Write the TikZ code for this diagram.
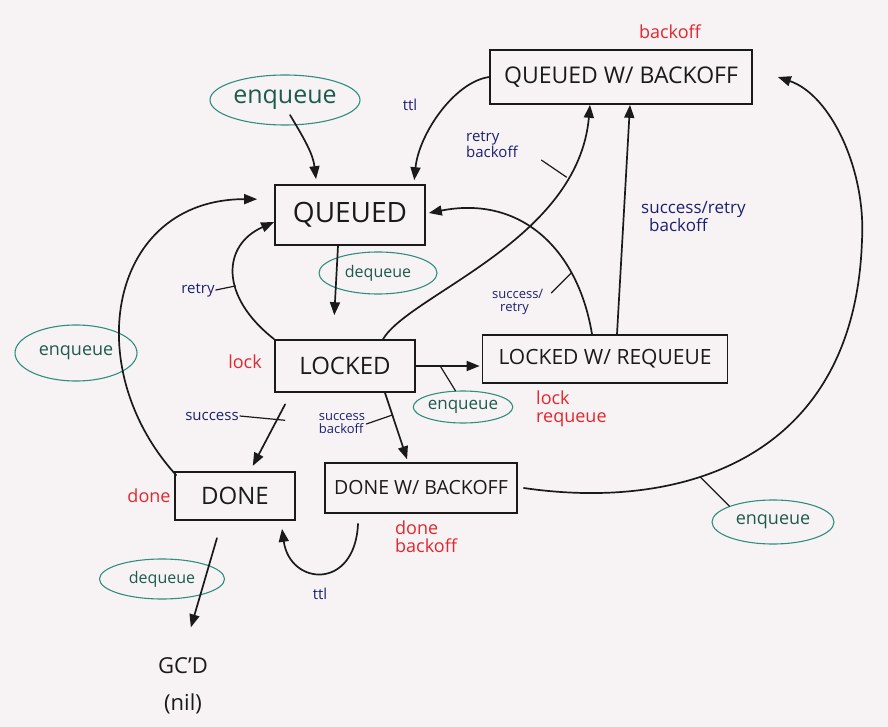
\documentclass[tikz,border=0pt]{standalone}
\usepackage{fontspec}
\setmainfont{Open Sans}
\usetikzlibrary{arrows.meta,shapes.geometric}
\definecolor{ink}{HTML}{1A1A1A}
\definecolor{redpen}{HTML}{E5262D}
\definecolor{bluepen}{HTML}{1D2070}
\definecolor{tealpen}{HTML}{2F8F7C}
\definecolor{greenpen}{HTML}{1E5B4B}
\definecolor{paper}{HTML}{F7F3F5}
\newcommand{\fs}[1]{\fontsize{#1}{#1}\selectfont}

\begin{document}
\begin{tikzpicture}[x=1pt,y=-1pt,line cap=round,
  state/.style={draw=ink,line width=1.7pt,inner sep=0pt,text=ink,font=\fs{21}},
  bubble/.style={ellipse,draw=tealpen,line width=1.1pt,inner sep=0pt,text=greenpen},
  redlbl/.style={text=redpen,align=left,inner sep=1pt,font=\fs{18}},
  bluelbl/.style={text=bluepen,align=left,inner sep=1pt,font=\fs{15}},
  flow/.style={draw=ink,line width=1.7pt,-{Triangle[length=13pt,width=10pt]}},
  tick/.style={draw=ink,line width=1.2pt}]
\fill[paper] (0,0) rectangle (888,727);
\useasboundingbox (0,0) rectangle (888,727);

\node[state,minimum width=262pt,minimum height=54pt,font=\fs{23}] (qb) at (621,77) {QUEUED W/ BACKOFF};
\node[state,minimum width=150pt,minimum height=60pt,font=\fs{28}] (q) at (350,215) {QUEUED};
\node[state,minimum width=140pt,minimum height=52pt,font=\fs{24}] (lk) at (345,366) {LOCKED};
\node[state,minimum width=245pt,minimum height=48pt] (lr) at (605,359) {LOCKED W/ REQUEUE};
\node[state,minimum width=120pt,minimum height=48pt,font=\fs{24}] (dn) at (235,496) {DONE};
\node[state,minimum width=192pt,minimum height=50pt,font=\fs{19.5}] (db) at (421,488) {DONE W/ BACKOFF};
\node[align=center,text=ink,font=\fontsize{22}{37}\selectfont] (gc) at (183,686) {GC'D\\(nil)};

\node[bubble,minimum width=150pt,minimum height=50pt,font=\fs{25}] (en1) at (285,100) {enqueue};
\node[bubble,minimum width=118pt,minimum height=42pt,font=\fs{16}] (dq1) at (378,273) {dequeue};
\node[bubble,minimum width=122pt,minimum height=56pt,font=\fs{18}] (en2) at (76,353) {enqueue};
\node[bubble,minimum width=86pt,minimum height=32pt,font=\fs{17}] (en3) at (463,407) {enqueue};
\node[bubble,minimum width=122pt,minimum height=44pt,font=\fs{18}] (en4) at (773,522) {enqueue};
\node[bubble,minimum width=125pt,minimum height=40pt,font=\fs{16}] (dq2) at (162,579) {dequeue};

\node[redlbl] (rb) at (670,32) {backoff};
\node[redlbl] (rl) at (245,362) {lock};
\node[redlbl,anchor=north west] (rlr) at (535,390) {lock\\requeue};
\node[redlbl] (rd) at (149,496) {done};
\node[redlbl,anchor=north west] (rdb) at (394,520) {done\\backoff};

\node[bluelbl] (bt1) at (410,105) {ttl};
\node[bluelbl,anchor=north west] (brb) at (465,130) {retry\\backoff};
\node[bluelbl,anchor=north west,font=\fs{17}] (bsrb) at (640,200) {success/retry\\\hspace*{8pt}backoff};
\node[bluelbl,anchor=north west,font=\fs{13}] (bsr) at (491,288) {success/\\\hspace*{8pt}retry};
\node[bluelbl] (br) at (198,290) {retry};
\node[bluelbl] (bs) at (212,416) {success};
\node[bluelbl,font=\fs{13}] (bsb) at (342,424) {success\\backoff};
\node[bluelbl] (bt2) at (320,594) {ttl};

\draw[flow] ([xshift=5pt,yshift=-15pt]en1.center) .. controls +(15,25) and +(-3,-25) .. ([xshift=-34pt,yshift=5pt]q.north);
\draw[flow,shorten >=4pt] (qb.west) .. controls +(-35,5) and +(5,-50) .. ([xshift=-12pt]q.north east);
\draw[flow,shorten >=24pt] ([xshift=-12pt]q.south) -- ([xshift=-12pt]lk.north);
\draw[flow] (lk.north west) .. controls +(-55,-43) and +(-52,23) .. ([yshift=-7pt]q.west) coordinate[pos=0.4] (t4);
\draw[flow,shorten >=2pt] (lk.east) -- (lk.east -| lr.west) coordinate[pos=0.37] (t6);
\draw[flow] ([xshift=38pt]lk.north) .. controls +(27,-45) and +(-12,136) .. ([xshift=-31pt]qb.south) coordinate[pos=0.8] (t7);
\draw[flow] ([xshift=-13pt]lr.north) .. controls +(-14,-85) and +(92,-18) .. ([xshift=3pt,yshift=2pt]q.east) coordinate[pos=0.27] (t8);
\draw[flow] ([xshift=12pt]lr.north) -- ([xshift=9pt]qb.south);
\draw[flow,shorten <=13pt,shorten >=6pt] ([xshift=17pt]lk.south west) -- ([xshift=15pt]dn.north) coordinate[pos=0.35] (t10);
\draw[flow,shorten >=3pt] ([xshift=40pt]lk.south) -- ([xshift=-13pt]db.north) coordinate[pos=0.32] (t11);
\draw[flow] ([xshift=6pt]db.east) .. controls +(157,23) and +(-7,220) .. (862,240) coordinate[pos=0.38] (t12) .. controls +(4,-70) and +(53,18) .. ([xshift=25pt]qb.east);
\draw[flow] ([xshift=-63pt,yshift=-10pt]db.south) .. controls +(-3,67) and +(8,57) .. ([xshift=47pt,yshift=-8pt]dn.south);
\draw[flow,shorten <=18pt,shorten >=28pt] ([xshift=-13pt]dn.south) -- (gc.north);
\draw[flow] ([xshift=2pt,yshift=-4pt]dn.north west) .. controls +(-98,-108) and +(-148,0) .. ([xshift=-17pt,yshift=-15pt]q.north west);

\draw[tick] (t7) -- +(-25,-17);
\draw[tick] (t8) -- +(-20,20);
\draw[tick] (br.east) -- (t4);
\draw[tick] (bs.east) -- ([xshift=8pt]t10);
\draw[tick] (bsb.east) -- (t11);
\draw[tick] (t6) -- (en3.115);
\draw[tick] (t12) -- (en4.160);
\end{tikzpicture}
\end{document}
